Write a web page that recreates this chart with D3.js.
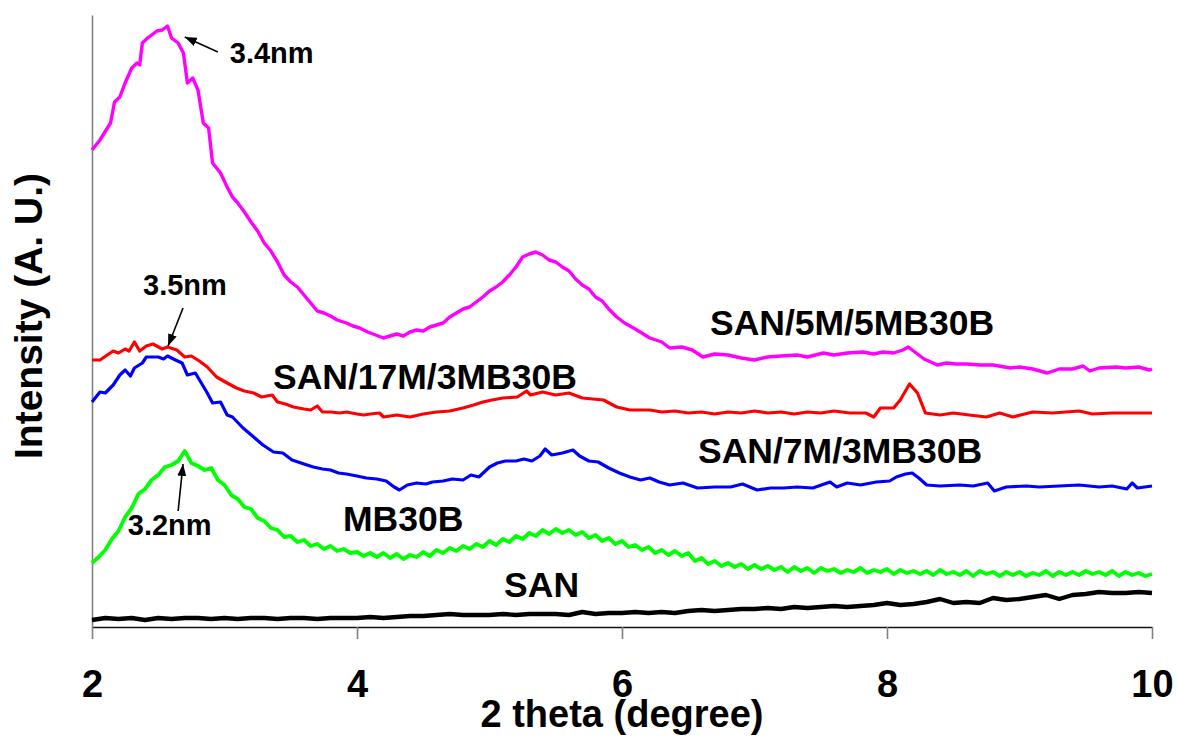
<!DOCTYPE html>
<html>
<head>
<meta charset="utf-8">
<script src="https://cdn.jsdelivr.net/npm/d3@7"></script>
<style>
  html, body { margin: 0; padding: 0; background: #fff; }
  svg { display: block; font-family: "Liberation Sans", Arial, Helvetica, sans-serif; font-weight: bold; }
</style>
</head>
<body>
<div id="chart"></div>
<script>
// XRD patterns, intensity in arbitrary units, [2 theta, intensity]
const san5m5mb = [[2.00,477],[2.06,487],[2.14,504],[2.17,525],[2.21,530],[2.25,544],[2.30,559],[2.34,564],[2.36,562],[2.38,584],[2.42,589],[2.49,596],[2.53,597],[2.57,601],[2.60,589],[2.65,584],[2.69,574],[2.72,544],[2.76,549],[2.80,537],[2.84,504],[2.88,499],[2.91,464],[2.97,454],[3.02,440],[3.06,430],
  [3.10,424],[3.15,415],[3.20,405],[3.25,396],[3.30,384],[3.35,376],[3.40,365],[3.45,352],[3.50,345],[3.55,340],[3.60,332],[3.65,324],[3.70,316],[3.75,314],[3.80,311],[3.85,307],[3.92,304],[3.97,301],[4.02,299],[4.08,295],[4.14,292],[4.20,289],[4.25,291],[4.30,293],[4.35,291],[4.40,295],[4.45,297],[4.50,296],[4.55,300],[4.60,302],[4.65,304],[4.70,310],[4.75,314],[4.80,318],[4.85,320],[4.90,325],[4.95,330],[5.00,336],[5.05,340],[5.10,345],[5.15,352],[5.20,360],[5.25,370],[5.30,373],[5.35,375],[5.40,372],[5.45,367],[5.50,365],[5.55,360],[5.60,356],[5.65,348],[5.70,342],[5.75,338],[5.80,330],[5.85,326],[5.90,318],[5.96,310],[6.02,304],[6.10,298],[6.21,289],
  [6.30,285],[6.36,279],[6.45,280],[6.53,277],[6.61,270],[6.70,273],[6.80,272],[6.90,269],[7.00,267],[7.10,270],[7.20,271],[7.32,272],[7.40,270],[7.52,274],[7.60,272],[7.70,274],[7.82,275],[7.90,273],[7.97,275],[8.05,274],[8.12,277],[8.16,280],[8.22,274],[8.28,268],[8.33,265],[8.38,262],[8.45,264],[8.52,263],[8.60,263],[8.70,262],[8.80,262],[8.93,259],[9.00,260],[9.10,258],[9.21,254],[9.30,258],[9.40,258],[9.48,261],[9.53,256],[9.60,259],[9.73,260],[9.80,259],[9.90,260],[9.98,257],[10.00,258]];

const san17m3mb = [[2.00,267],[2.06,267],[2.16,276],[2.20,274],[2.25,278],[2.28,276],[2.32,285],[2.36,276],[2.41,281],[2.46,283],[2.53,278],[2.57,280],[2.64,277],[2.70,270],[2.75,271],[2.81,266],[2.87,260],[2.94,250],[3.02,244],[3.09,239],[3.15,236],[3.22,234],[3.28,230],[3.36,232],[3.40,225],[3.46,223],[3.52,220],[3.60,218],[3.65,217],[3.70,221],[3.74,215],[3.80,215],[3.87,214],[3.92,215],[4.00,213],[4.05,212],[4.10,213],[4.17,214],[4.20,210],[4.30,212],[4.40,210],[4.50,213],[4.60,215],[4.70,216],[4.80,219],[4.88,222],[4.95,225],[5.02,227],[5.10,229],[5.21,230],[5.28,236],[5.31,232],[5.40,235],[5.50,232],[5.60,234],[5.70,229],[5.78,228],[5.86,227],[5.96,220],[6.06,217],[6.21,217],
  [6.30,215],[6.40,216],[6.50,214],[6.60,215],[6.70,213],[6.80,215],[6.90,214],[7.00,216],[7.10,214],[7.20,215],[7.30,213],[7.40,215],[7.50,214],[7.60,216],[7.72,214],[7.84,214],[7.90,210],[7.95,219],[8.05,219],[8.10,227],[8.17,243],[8.23,234],[8.29,214],[8.40,212],[8.50,214],[8.62,212],[8.75,210],[8.85,214],[8.95,210],[9.10,215],[9.25,214],[9.35,215],[9.45,216],[9.55,213],[9.70,214],[9.85,214],[10.00,214]];

const san7m3mb = [[2.00,225],[2.06,235],[2.10,234],[2.16,242],[2.21,252],[2.25,257],[2.29,251],[2.32,259],[2.38,264],[2.41,270],[2.46,270],[2.50,270],[2.54,268],[2.57,271],[2.63,267],[2.68,264],[2.72,252],[2.78,254],[2.87,234],[2.91,224],[2.97,225],[3.02,212],[3.06,210],[3.14,199],[3.22,190],[3.29,182],[3.37,175],[3.44,174],[3.51,167],[3.60,163],[3.67,160],[3.74,158],[3.80,157],[3.86,154],[3.92,153],[4.00,151],[4.07,149],[4.15,148],[4.22,146],[4.28,140],[4.32,137],[4.38,142],[4.45,144],[4.52,143],[4.57,145],[4.65,146],[4.72,148],[4.80,147],[4.86,152],[4.92,150],[5.00,160],[5.06,164],[5.12,166],[5.20,166],[5.26,168],[5.32,166],[5.38,171],[5.42,178],[5.47,172],[5.55,174],[5.63,177],[5.68,171],[5.75,166],[5.82,165],[5.90,159],[5.98,154],[6.06,150],[6.14,147],[6.21,149],[6.28,145],[6.36,142],[6.46,144],[6.57,139],
  [6.70,140],[6.82,140],[6.91,143],[7.02,137],[7.12,139],[7.22,139],[7.32,140],[7.44,139],[7.57,145],[7.62,140],[7.70,144],[7.80,142],[7.92,145],[8.02,146],[8.07,150],[8.14,153],[8.19,154],[8.24,149],[8.30,142],[8.40,141],[8.55,142],[8.65,141],[8.76,144],[8.81,136],[8.90,140],[9.05,141],[9.15,140],[9.30,141],[9.45,142],[9.60,140],[9.70,141],[9.81,138],[9.85,144],[9.89,139],[10.00,141]];

// MB30B and SAN are sampled on a regular 2 theta grid
const mb30bStep = 0.05;
const mb30b = [
  64,70,77,88,96,110,119,133,138,147,152,160,162,166,176,164,161,157,159,147,
  142,132,128,120,118,109,106,99,97,90,91,85,87,81,83,78,81,76,78,74,
  75,71,74,70,74,69,73,68,72,70,75,71,77,74,79,76,81,78,83,80,
  86,82,88,85,91,88,94,91,97,93,98,94,97,92,95,89,92,86,89,83,
  86,80,82,77,80,74,77,72,76,71,74,66,69,63,66,61,64,60,63,58,
  62,58,61,57,60,55,60,56,59,54,59,56,58,54,57,55,59,54,57,55,
  58,53,57,54,56,53,56,52,57,53,55,52,56,51,56,53,55,51,55,52,
  55,51,54,52,56,51,55,52,55,52,56,53,55,52,56,51,55,52,54,51,
  53];

const sanStep = 0.1;
const san = [
  7,9,8,9,7,9,8,9,9,8,
  9,8,9,9,8,9,9,8,9,9,
  9,10,9,10,11,11,12,13,12,12,
  12,13,12,13,13,13,12,15,13,14,
  14,15,14,15,14,16,17,16,17,18,
  18,19,18,20,19,20,21,20,21,22,
  24,22,23,25,28,24,25,24,29,27,
  28,30,32,28,32,33,35,34,34,35,
  34];

const xTicks = [2, 4, 6, 8, 10];
const seriesNames = ["SAN/5M/5MB30B", "SAN/17M/3MB30B", "SAN/7M/3MB30B", "MB30B", "SAN"];
const seriesColors = ["#ff00ff", "#ff0000", "#0000ff", "#00ff00", "#000000"];

// label anchors in data units (2 theta, intensity)
const seriesLabelAt = [[6.664, 292], [3.366, 238], [6.574, 164], [3.894, 96], [5.11, 30]];
const peakNotes = ["3.4nm", "3.5nm", "3.2nm"];
const peakNoteAt = [[3.04, 564], [2.385, 332], [2.27, 92]];
const peakArrows = [[[2.95, 575], [2.70, 590]], [[2.687, 319], [2.574, 281]], [[2.65, 116], [2.687, 163]]];

const margin = { top: 15, right: 25, bottom: 111, left: 92 };
const width = 1177 - margin.left - margin.right;
const height = 738 - margin.top - margin.bottom;

const svg = d3.select("#chart")
  .append("svg")
  .attr("width", 1177)
  .attr("height", 738);

const g = svg.append("g")
  .attr("transform", `translate(${margin.left},${margin.top})`);

const x = d3.scaleLinear().domain([2, 10]).range([0, width]);
const y = d3.scaleLinear().domain([0, 612]).range([height, 0]);

// axes
const xAxis = g.append("g")
  .attr("transform", `translate(0,${height})`)
  .call(d3.axisBottom(x).tickValues(xTicks).tickSize(12).tickSizeOuter(0).tickFormat(d3.format("d")));
xAxis.select(".domain").attr("stroke", "#111").attr("stroke-width", 1.6);
xAxis.selectAll(".tick line").attr("stroke", "#808080").attr("stroke-width", 1.6);
xAxis.selectAll(".tick text")
  .attr("y", 70).attr("dy", null)
  .attr("fill", "#000")
  .style("font-size", "38px")
  .style("font-weight", "bold");

const yAxis = g.append("g")
  .call(d3.axisLeft(y).tickValues([]).tickSizeOuter(0));
yAxis.select(".domain").attr("stroke", "#808080").attr("stroke-width", 1.6);

const line = d3.line()
  .x(d => x(d[0]))
  .y(d => y(d[1]));

const gridSeries = (vals, step) => vals.map((v, i) => [2 + i * step, v]);

const allSeries = [san5m5mb, san17m3mb, san7m3mb, gridSeries(mb30b, mb30bStep), gridSeries(san, sanStep)];
const widths = [3.4, 3.2, 3.2, 3.8, 4.4];

allSeries.forEach((s, i) => {
  g.append("path")
    .datum(s)
    .attr("fill", "none")
    .attr("stroke", seriesColors[i])
    .attr("stroke-width", widths[i])
    .attr("stroke-linejoin", "round")
    .attr("d", line);
});

// series labels
g.selectAll(".series-label")
  .data(seriesNames)
  .join("text")
  .attr("class", "series-label")
  .attr("x", (d, i) => x(seriesLabelAt[i][0]))
  .attr("y", (d, i) => y(seriesLabelAt[i][1]))
  .style("font-size", "35.5px")
  .text(d => d);

// peak arrows
svg.append("defs").append("marker")
  .attr("id", "head")
  .attr("viewBox", "0 0 12 9")
  .attr("refX", 12).attr("refY", 4.5)
  .attr("markerWidth", 12).attr("markerHeight", 9)
  .attr("markerUnits", "userSpaceOnUse")
  .attr("orient", "auto")
  .append("path")
  .attr("d", "M0,0L12,4.5L0,9Z")
  .attr("fill", "#000");

peakArrows.forEach(a => {
  g.append("line")
    .attr("x1", x(a[0][0])).attr("y1", y(a[0][1]))
    .attr("x2", x(a[1][0])).attr("y2", y(a[1][1]))
    .attr("stroke", "#000")
    .attr("stroke-width", 1.6)
    .attr("marker-end", "url(#head)");
});

g.selectAll(".peak-note")
  .data(peakNotes)
  .join("text")
  .attr("class", "peak-note")
  .attr("x", (d, i) => x(peakNoteAt[i][0]))
  .attr("y", (d, i) => y(peakNoteAt[i][1]))
  .style("font-size", "29px")
  .text(d => d);

// axis titles
svg.append("text")
  .attr("x", margin.left + width / 2)
  .attr("y", 727)
  .attr("text-anchor", "middle")
  .style("font-size", "38px")
  .text("2 theta (degree)");

svg.append("text")
  .attr("transform", "translate(42,316) rotate(-90)")
  .attr("text-anchor", "middle")
  .style("font-size", "39px")
  .text("Intensity (A. U.)");
</script>
</body>
</html>
